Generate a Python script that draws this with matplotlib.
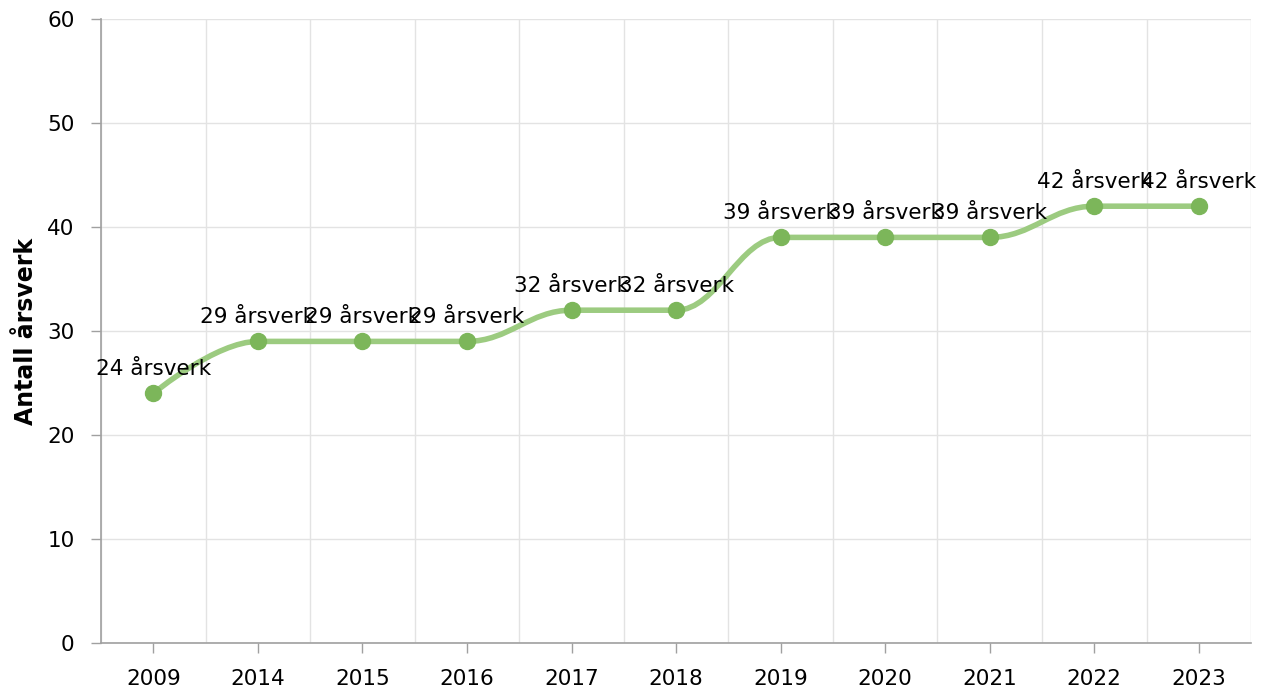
import matplotlib
matplotlib.use("Agg")
import matplotlib.pyplot as plt
from matplotlib.path import Path
from matplotlib.patches import PathPatch
import numpy as np

years = ["2009", "2014", "2015", "2016", "2017", "2018", "2019", "2020", "2021", "2022", "2023"]
aarsverk = [24, 29, 29, 29, 32, 32, 39, 39, 39, 42, 42]

line_col = "#9ccb80"
dot_col = "#7cb65a"
grid_col = "#e3e3e3"
axis_col = "#a0a0a0"

plt.rcParams['font.family'] = ['DejaVu Sans']


def spline_path(xs, ys, smoothing=1.5):
    # highcharts-like spline: control points from neighbours, clamped at extremes
    denom = smoothing + 1
    n = len(xs)
    verts = [(xs[0], ys[0])]
    codes = [Path.MOVETO]
    ctrl = []
    for i in range(n):
        if i == 0 or i == n - 1:
            ctrl.append(((xs[i], ys[i]), (xs[i], ys[i])))
            continue
        lx = (smoothing * xs[i] + xs[i - 1]) / denom
        ly = (smoothing * ys[i] + ys[i - 1]) / denom
        rx = (smoothing * xs[i] + xs[i + 1]) / denom
        ry = (smoothing * ys[i] + ys[i + 1]) / denom
        corr = (ry - ly) * (rx - xs[i]) / (rx - lx) + ys[i] - ry
        ly += corr
        ry += corr
        if ly > ys[i - 1] and ly > ys[i]:
            ly = max(ys[i - 1], ys[i]); ry = 2 * ys[i] - ly
        elif ly < ys[i - 1] and ly < ys[i]:
            ly = min(ys[i - 1], ys[i]); ry = 2 * ys[i] - ly
        if ry > ys[i + 1] and ry > ys[i]:
            ry = max(ys[i + 1], ys[i]); ly = 2 * ys[i] - ry
        elif ry < ys[i + 1] and ry < ys[i]:
            ry = min(ys[i + 1], ys[i]); ly = 2 * ys[i] - ry
        ctrl.append(((lx, ly), (rx, ry)))
    for i in range(1, n):
        verts += [ctrl[i - 1][1], ctrl[i][0], (xs[i], ys[i])]
        codes += [Path.CURVE4] * 3
    return Path(verts, codes)


fig = plt.figure(figsize=(12.68, 6.88), dpi=100)
ax = fig.add_axes([0.0797, 0.0654, 0.907, 0.907])

x = np.arange(len(years))
ax.add_patch(PathPatch(spline_path(list(x), aarsverk), fill=False,
                       edgecolor=line_col, lw=4, capstyle='round', zorder=3))
ax.plot(x, aarsverk, 'o', color=dot_col, ms=11.5, zorder=4)

for xi, v in zip(x, aarsverk):
    ax.annotate(f"{v} årsverk", (xi, v), xytext=(0, 10.5), textcoords='offset points',
                ha='center', va='bottom', fontsize=15.5, color='black', zorder=5)

ax.set_xlim(-0.5, len(years) - 0.5)
ax.set_ylim(0, 60)
ax.set_yticks(range(0, 61, 10))
ax.set_xticks(x)
ax.set_xticklabels(years)
ax.set_xticks(np.arange(-0.5, len(years), 1), minor=True)
ax.grid(True, which='minor', axis='x', color=grid_col, lw=1)
ax.grid(True, which='major', axis='y', color=grid_col, lw=1)
ax.set_axisbelow(True)

for s in ['top', 'right']:
    ax.spines[s].set_visible(False)
for s in ['left', 'bottom']:
    ax.spines[s].set_color(axis_col)
    ax.spines[s].set_linewidth(1.2)

ax.tick_params(axis='both', which='major', labelsize=15.5, colors=axis_col,
               labelcolor='black', length=7, width=1, pad=12)
ax.tick_params(axis='x', which='minor', length=0)
ax.set_ylabel("Antall årsverk", fontsize=17, fontweight='bold', labelpad=7)

fig.savefig("out.png", dpi=100)
